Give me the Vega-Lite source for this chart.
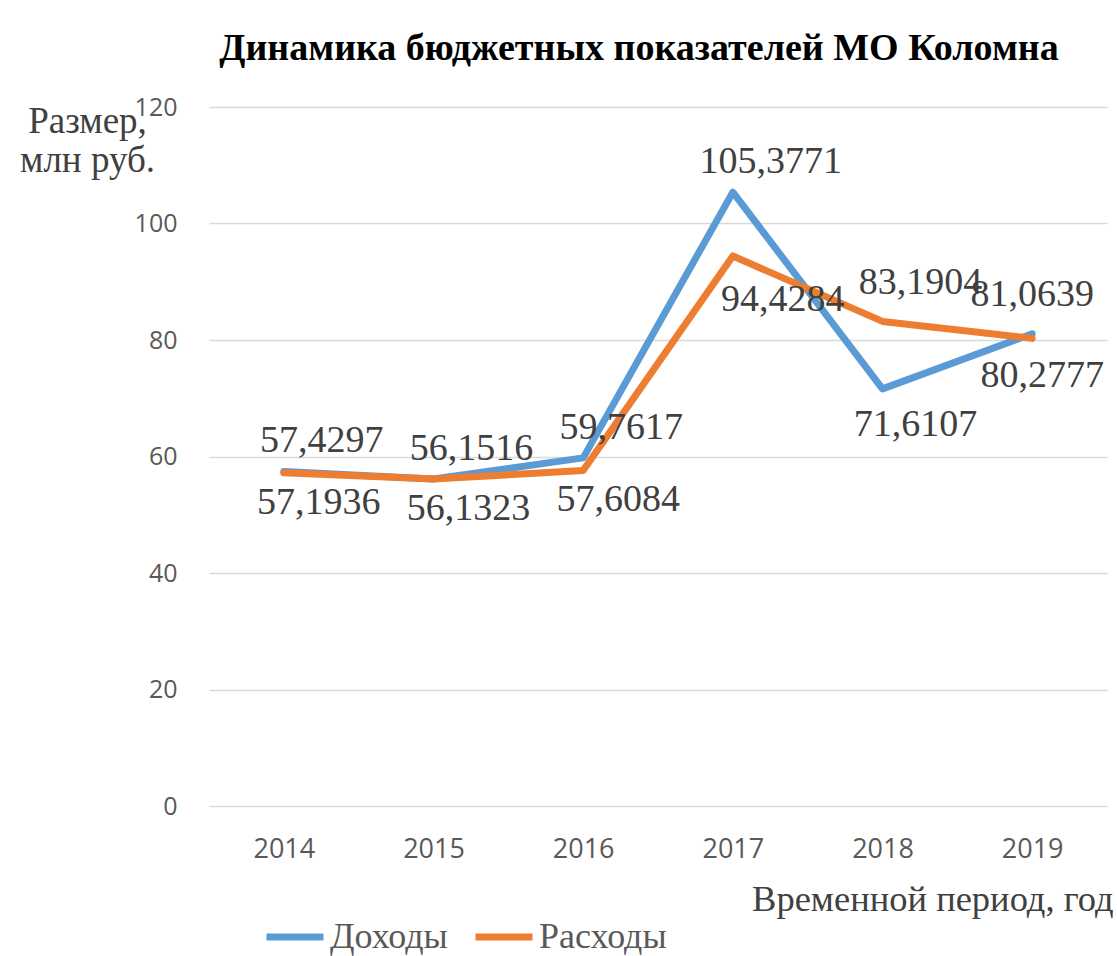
{
  "$schema": "https://vega.github.io/schema/vega-lite/v6.json",
  "width": 898,
  "height": 699,
  "autosize": {"type": "none"},
  "padding": {"left": 209, "top": 107, "right": 10, "bottom": 150},
  "background": "white",
  "config": {
    "view": {"stroke": null},
    "locale": {"number": {"decimal": ",", "thousands": "\u00a0", "grouping": [3], "currency": ["", ""]}}
  },
  "title": {
    "text": "Динамика бюджетных показателей МО Коломна",
    "font": "Liberation Serif",
    "fontSize": 38,
    "fontWeight": "bold",
    "color": "#000000",
    "anchor": "middle",
    "dx": -19,
    "offset": -3,
    "baseline": "alphabetic"
  },
  "data": {
    "values": [
      {"year": 2014, "series": "Доходы", "value": 57.4297},
      {"year": 2015, "series": "Доходы", "value": 56.1516},
      {"year": 2016, "series": "Доходы", "value": 59.7617},
      {"year": 2017, "series": "Доходы", "value": 105.3771},
      {"year": 2018, "series": "Доходы", "value": 71.6107},
      {"year": 2019, "series": "Доходы", "value": 81.0639},
      {"year": 2014, "series": "Расходы", "value": 57.1936},
      {"year": 2015, "series": "Расходы", "value": 56.1323},
      {"year": 2016, "series": "Расходы", "value": 57.6084},
      {"year": 2017, "series": "Расходы", "value": 94.4284},
      {"year": 2018, "series": "Расходы", "value": 83.1904},
      {"year": 2019, "series": "Расходы", "value": 80.2777}
    ]
  },
  "encoding": {
    "x": {
      "field": "year",
      "type": "ordinal",
      "scale": {"type": "point", "padding": 0.5},
      "axis": {
        "title": "Временной период, год",
        "titleFont": "Liberation Serif",
        "titleFontSize": 36.5,
        "titleFontWeight": "normal",
        "titleColor": "#404040",
        "titleAnchor": "end",
        "titleAlign": "right",
        "titleX": 904,
        "titlePadding": 19,
        "labelFont": "Open Sans",
        "labelFontSize": 27,
        "labelColor": "#595959",
        "labelAngle": 0,
        "labelPadding": 30,
        "ticks": false,
        "tickSize": 0,
        "domain": false,
        "grid": false
      }
    },
    "y": {
      "field": "value",
      "type": "quantitative",
      "scale": {"domain": [0, 120], "nice": false},
      "axis": {
        "title": ["Размер,", "млн руб."],
        "titleFont": "Liberation Serif",
        "titleFontSize": 37,
        "titleFontWeight": "normal",
        "titleColor": "#404040",
        "titleAngle": 0,
        "titleAlign": "center",
        "titleBaseline": "alphabetic",
        "titleX": -122,
        "titleY": 25,
        "titleLineHeight": 39,
        "labelFont": "Open Sans",
        "labelFontSize": 25,
        "labelColor": "#595959",
        "labelPadding": 32,
        "ticks": false,
        "tickSize": 0,
        "domain": false,
        "grid": true,
        "gridColor": "#D9D9D9",
        "gridWidth": 1.5,
        "values": [0, 20, 40, 60, 80, 100, 120]
      }
    }
  },
  "layer": [
    {
      "mark": {"type": "line", "strokeWidth": 7, "strokeCap": "round", "strokeJoin": "round"},
      "encoding": {
        "color": {
          "field": "series",
          "type": "nominal",
          "scale": {"domain": ["Доходы", "Расходы"], "range": ["#5B9BD5", "#ED7D31"]},
          "legend": {
            "title": null,
            "orient": "none",
            "legendX": 54,
            "legendY": 798,
            "direction": "horizontal",
            "symbolType": "stroke",
            "symbolSize": 3249,
            "symbolStrokeWidth": 7,
            "labelFont": "Liberation Serif",
            "labelFontSize": 36,
            "labelColor": "#595959",
            "labelOffset": 3,
            "columnPadding": 13
          }
        }
      }
    },
    {
      "transform": [{"filter": "datum.series === 'Доходы' && datum.year <= 2017"}],
      "mark": {"type": "text", "font": "Liberation Serif", "fontSize": 38, "color": "#404040", "baseline": "middle", "dx": 38, "dy": -30},
      "encoding": {"text": {"field": "value", "type": "quantitative", "format": ".4f"}}
    },
    {
      "transform": [{"filter": "datum.series === 'Доходы' && datum.year === 2018"}],
      "mark": {"type": "text", "font": "Liberation Serif", "fontSize": 38, "color": "#404040", "baseline": "middle", "dx": 33, "dy": 36},
      "encoding": {"text": {"field": "value", "type": "quantitative", "format": ".4f"}}
    },
    {
      "transform": [{"filter": "datum.series === 'Доходы' && datum.year === 2019"}],
      "mark": {"type": "text", "font": "Liberation Serif", "fontSize": 38, "color": "#404040", "baseline": "middle", "dx": 0, "dy": -39},
      "encoding": {"text": {"field": "value", "type": "quantitative", "format": ".4f"}}
    },
    {
      "transform": [{"filter": "datum.series === 'Расходы' && datum.year <= 2016"}],
      "mark": {"type": "text", "font": "Liberation Serif", "fontSize": 38, "color": "#404040", "baseline": "middle", "dx": 35, "dy": 30},
      "encoding": {"text": {"field": "value", "type": "quantitative", "format": ".4f"}}
    },
    {
      "transform": [{"filter": "datum.series === 'Расходы' && datum.year === 2017"}],
      "mark": {"type": "text", "font": "Liberation Serif", "fontSize": 38, "color": "#404040", "baseline": "middle", "dx": 50, "dy": 44},
      "encoding": {"text": {"field": "value", "type": "quantitative", "format": ".4f"}}
    },
    {
      "transform": [{"filter": "datum.series === 'Расходы' && datum.year === 2018"}],
      "mark": {"type": "text", "font": "Liberation Serif", "fontSize": 38, "color": "#404040", "baseline": "middle", "dx": 38, "dy": -38},
      "encoding": {"text": {"field": "value", "type": "quantitative", "format": ".4f"}}
    },
    {
      "transform": [{"filter": "datum.series === 'Расходы' && datum.year === 2019"}],
      "mark": {"type": "text", "font": "Liberation Serif", "fontSize": 38, "color": "#404040", "baseline": "middle", "dx": 10, "dy": 38},
      "encoding": {"text": {"field": "value", "type": "quantitative", "format": ".4f"}}
    }
  ]
}
